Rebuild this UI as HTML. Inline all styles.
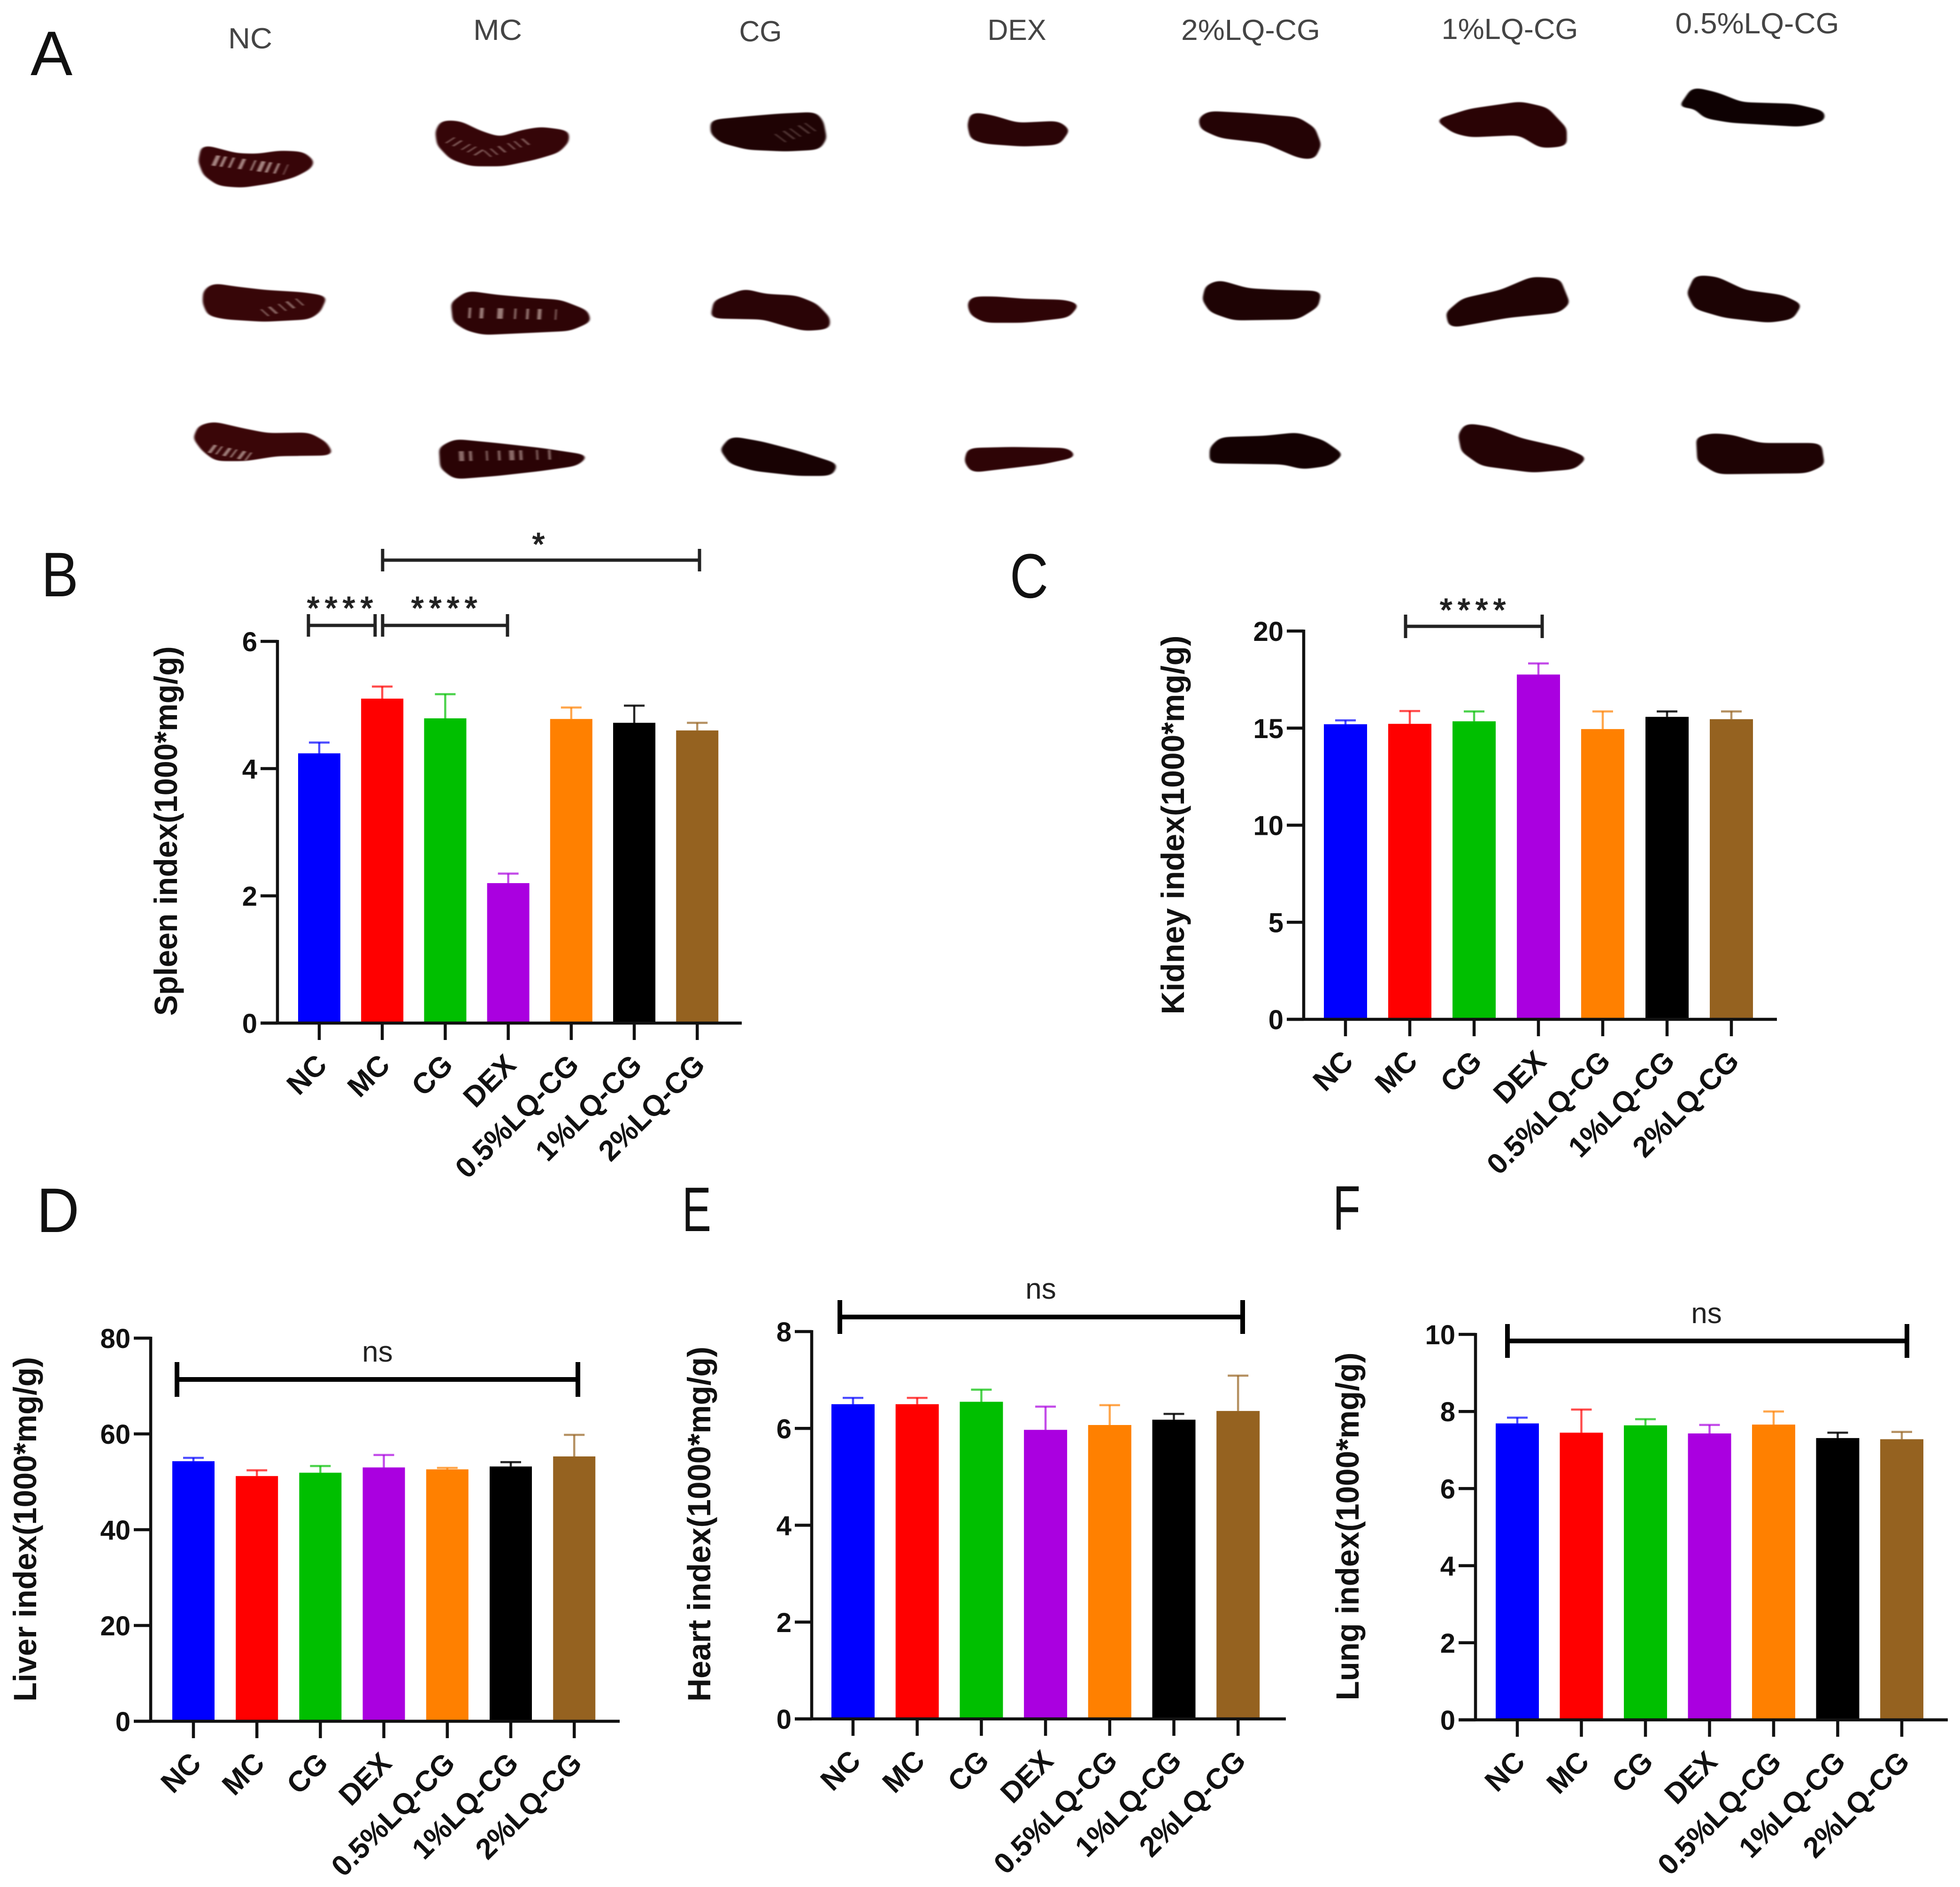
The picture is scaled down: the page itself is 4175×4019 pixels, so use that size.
<!DOCTYPE html>
<html lang="en">
<head>
<meta charset="utf-8">
<title>Organ index figure</title>
<style>
html,body{margin:0;padding:0;background:#fff;}
svg{display:block;font-family:"Liberation Sans",Arial,sans-serif;}
.hdr{font-size:62px;fill:#444;text-anchor:middle;}
.ltr{font-size:134px;fill:#111;}
</style>
</head>
<body>
<svg id="fig" xmlns="http://www.w3.org/2000/svg" width="4175" height="4019" viewBox="0 0 4175 4019">
<defs>
<filter id="goo" x="-15%" y="-15%" width="130%" height="130%" color-interpolation-filters="sRGB">
  <feGaussianBlur in="SourceGraphic" stdDeviation="9" result="b"/>
  <feComponentTransfer in="b" result="sharp"><feFuncA type="linear" slope="9" intercept="-4"/></feComponentTransfer>
  <feGaussianBlur in="sharp" stdDeviation="1.5"/>
</filter>
<filter id="soft" x="-10%" y="-10%" width="120%" height="120%"><feGaussianBlur stdDeviation="1.6"/></filter>
</defs>
<rect width="4175" height="4019" fill="#fff"/>

<g>
<text class="ltr" x="65" y="160">A</text>
<text class="ltr" x="88" y="1270" textLength="79" lengthAdjust="spacingAndGlyphs">B</text>
<text class="ltr" x="2151" y="1273" textLength="82" lengthAdjust="spacingAndGlyphs">C</text>
<text class="ltr" x="78" y="2624" textLength="91" lengthAdjust="spacingAndGlyphs">D</text>
<text class="ltr" x="1453" y="2622" textLength="62" lengthAdjust="spacingAndGlyphs">E</text>
<text class="ltr" x="2839" y="2619" textLength="59" lengthAdjust="spacingAndGlyphs">F</text>
</g>

<g>
<text class="hdr" x="533" y="103" textLength="94" lengthAdjust="spacingAndGlyphs">NC</text>
<text class="hdr" x="1060" y="85" textLength="104" lengthAdjust="spacingAndGlyphs">MC</text>
<text class="hdr" x="1620" y="88" textLength="91" lengthAdjust="spacingAndGlyphs">CG</text>
<text class="hdr" x="2166" y="85" textLength="125" lengthAdjust="spacingAndGlyphs">DEX</text>
<text class="hdr" x="2664" y="85" textLength="296" lengthAdjust="spacingAndGlyphs">2%LQ-CG</text>
<text class="hdr" x="3216" y="83" textLength="291" lengthAdjust="spacingAndGlyphs">1%LQ-CG</text>
<text class="hdr" x="3743" y="71" textLength="349" lengthAdjust="spacingAndGlyphs">0.5%LQ-CG</text>
</g>

<g transform="scale(1.3393,0.7015)" filter="url(#goo)" stroke-linejoin="round" stroke-width="10">
<polygon fill="#370508" stroke="#370508" points="325,445 345,455 375,470 410,472 445,462 480,465 495,490 490,510 465,535 430,552 385,565 350,560 328,530 320,490"/>
<polygon fill="#350508" stroke="#350508" points="705,370 730,372 760,400 795,422 830,400 860,390 900,400 900,430 885,460 850,480 800,500 750,500 720,480 700,440 697,400"/>
<polygon fill="#1f0304" stroke="#1f0304" points="1135,368 1190,358 1240,350 1295,345 1305,370 1310,420 1300,450 1250,455 1190,450 1150,430 1135,405"/>
<polygon fill="#370608" stroke="#370608" points="340,865 375,875 420,885 480,892 515,902 505,945 490,965 420,972 360,965 335,955 327,920 328,885"/>
<polygon fill="#2e0406" stroke="#2e0406" points="745,888 790,900 850,910 890,915 930,945 935,975 905,1000 850,1005 770,1012 745,1000 725,975 722,920"/>
<polygon fill="#2a0406" stroke="#2a0406" points="1185,882 1215,897 1265,902 1295,925 1315,965 1315,995 1280,1000 1250,985 1215,965 1135,962 1140,915"/>
<polygon fill="#3a0608" stroke="#3a0608" points="340,1285 385,1305 425,1320 490,1318 515,1345 525,1378 440,1380 390,1395 345,1395 325,1365 312,1330 320,1295"/>
<polygon fill="#2a0305" stroke="#2a0305" points="725,1338 790,1350 860,1365 930,1385 915,1410 860,1425 790,1440 725,1450 705,1420 703,1360"/>
<polygon fill="#180203" stroke="#180203" points="1165,1330 1210,1345 1270,1375 1327,1410 1320,1440 1270,1440 1200,1425 1165,1405 1150,1365"/>
</g>

<g transform="scale(1.3393,0.7015)" filter="url(#soft)" fill="none" stroke="#c9aea8" stroke-opacity="0.75">
<polyline points="340,487 455,515" stroke-width="32" stroke-dasharray="7 6 5 9 4 12 6 14 3 8"/>
<polyline points="715,425 770,470 845,425" stroke-width="22" stroke-dasharray="3 11 4 14 3 9" stroke-opacity="0.5"/>
<polyline points="1240,420 1290,385" stroke-width="30" stroke-dasharray="3 13 4 9" stroke-opacity="0.3"/>
<polyline points="420,950 480,915" stroke-width="24" stroke-dasharray="3 11 5 13" stroke-opacity="0.55"/>
<polyline points="745,950 885,955" stroke-width="32" stroke-dasharray="4 14 6 22 9 18 3 16" stroke-opacity="0.7"/>
<polyline points="335,1362 400,1388" stroke-width="26" stroke-dasharray="6 7 3 9" stroke-opacity="0.7"/>
<polyline points="730,1385 890,1380" stroke-width="30" stroke-dasharray="8 8 5 22 3 16 4 14" stroke-opacity="0.6"/>
</g>

<g transform="translate(2100,0) scale(1.3235,0.7015)" filter="url(#goo)" stroke-linejoin="round" stroke-width="10">
<polygon fill="#2a0406" stroke="#2a0406" points="-20,345 10,355 50,378 115,372 130,395 115,435 60,440 0,432 -20,420 -25,380"/>
<polygon fill="#2e0406" stroke="#2e0406" points="-20,905 15,905 60,912 125,915 145,925 130,960 60,975 0,975 -20,955 -25,925"/>
<polygon fill="#2e0406" stroke="#2e0406" points="-25,1365 40,1362 130,1365 140,1385 90,1405 0,1425 -20,1430 -30,1400"/>
<polygon fill="#240305" stroke="#240305" points="360,342 420,348 500,360 525,390 535,440 525,480 505,475 450,430 380,415 350,390 347,360"/>
<polygon fill="#1e0304" stroke="#1e0304" points="375,855 420,880 470,885 535,888 530,930 500,965 400,968 365,945 353,910 358,870"/>
<polygon fill="#140102" stroke="#140102" points="380,1332 450,1328 500,1318 540,1340 570,1380 550,1410 510,1420 480,1405 365,1402 365,1360"/>
<polygon fill="#2a0305" stroke="#2a0305" points="730,365 780,335 860,313 900,330 930,390 930,440 895,445 860,405 780,412 755,400"/>
<polygon fill="#200304" stroke="#200304" points="880,845 920,850 935,920 920,945 840,960 750,990 745,950 770,910 830,885"/>
<polygon fill="#240305" stroke="#240305" points="775,1290 810,1300 860,1335 930,1365 962,1390 945,1420 880,1430 800,1410 770,1370 765,1320"/>
<polygon fill="#0e0102" stroke="#0e0102" points="1140,270 1175,285 1215,315 1300,320 1345,340 1345,365 1310,380 1200,368 1160,355 1140,320 1120,325"/>
<polygon fill="#1c0304" stroke="#1c0304" points="1145,840 1175,845 1220,885 1280,900 1308,925 1295,965 1260,975 1190,960 1145,935 1133,890"/>
<polygon fill="#1e0304" stroke="#1e0304" points="1170,1320 1200,1325 1245,1350 1340,1350 1345,1410 1320,1432 1180,1435 1150,1400 1148,1330"/>
</g>
</svg>

<script>
// ---- chart data ----
const categories = ['NC','MC','CG','DEX','0.5%LQ-CG','1%LQ-CG','2%LQ-CG'];
const barColors = ['#0000ff','#ff0000','#00bf00','#aa00e0','#ff8000','#000000','#956220'];

const spleenMeans = [4.24,5.10,4.79,2.20,4.78,4.72,4.60];
const spleenUpper = [4.41,5.29,5.17,2.35,4.96,4.99,4.72];
const spleenTicks = [0,2,4,6];

const kidneyMeans = [15.20,15.22,15.35,17.76,14.95,15.58,15.46];
const kidneyUpper = [15.40,15.88,15.86,18.33,15.86,15.86,15.86];
const kidneyTicks = [0,5,10,15,20];

const liverMeans = [54.3,51.2,51.9,53.0,52.6,53.2,55.3];
const liverUpper = [55.0,52.4,53.3,55.6,52.9,54.1,59.8];
const liverTicks = [0,20,40,60,80];

const heartMeans = [6.50,6.50,6.55,5.97,6.07,6.18,6.36];
const heartUpper = [6.63,6.63,6.80,6.45,6.48,6.30,7.09];
const heartTicks = [0,2,4,6,8];

const lungMeans = [7.69,7.45,7.64,7.43,7.66,7.31,7.28];
const lungUpper = [7.84,8.05,7.80,7.65,8.00,7.45,7.47];
const lungTicks = [0,2,4,6,8,10];

const SVGNS = 'http://www.w3.org/2000/svg';
const fig = document.getElementById('fig');

function make(parent, tag, attrs, text) {
  const el = document.createElementNS(SVGNS, tag);
  for (const k in attrs) el.setAttribute(k, attrs[k]);
  if (text !== undefined) el.textContent = text;
  parent.appendChild(el);
  return el;
}
function slug(s) { return s.toLowerCase().replace(/%/g, 'pct').replace(/[^a-z0-9]+/g, '-'); }

function drawPanel(p) {
  const yMax = p.ticks[p.ticks.length - 1];
  const yScale = v => p.y0 - (v / yMax) * (p.y0 - p.yTop);
  const xScale = i => p.x1 + i * p.step;
  const AXIS = '#111';

  const g = make(fig, 'g', {});
  
  

  // bars + error bars
  p.means.forEach((m, i) => {
    const cx = xScale(i);
    const c = barColors[i];
    const cat = slug(categories[i]);
    const err = make(g, 'g', {stroke: c, 'stroke-width': 4.5, 'stroke-opacity': c === '#000000' ? 0.85 : 0.7});
    
    
    make(err, 'line', {x1: cx, x2: cx, y1: yScale(m), y2: yScale(p.upper[i])});
    make(err, 'line', {x1: cx - 22, x2: cx + 22, y1: yScale(p.upper[i]), y2: yScale(p.upper[i])});
    const bar = make(g, 'rect', {x: cx - p.barW / 2, y: yScale(m), width: p.barW, height: p.y0 - yScale(m), fill: c});
    
    
  });

  // y axis
  const yAxis = make(g, 'g', {stroke: AXIS, 'stroke-width': 6.5});
  
  
  make(yAxis, 'line', {x1: p.axisX, x2: p.axisX, y1: p.yTop - 3, y2: p.y0});
  p.ticks.forEach(t => {
    make(yAxis, 'line', {x1: p.axisX - 36, x2: p.axisX, y1: yScale(t), y2: yScale(t)});
    const lab = make(g, 'text', {x: p.axisX - 43, y: yScale(t) + 21, 'text-anchor': 'end', 'font-size': 58, 'font-weight': 'bold', fill: AXIS}, String(t));
    
    
  });

  // x axis
  const xAxis = make(g, 'g', {stroke: AXIS, 'stroke-width': 6.5});
  
  
  make(xAxis, 'line', {x1: p.axisX - 36, x2: p.xRight, y1: p.y0, y2: p.y0});
  categories.forEach((cat, i) => {
    const cx = xScale(i);
    make(xAxis, 'line', {x1: cx, x2: cx, y1: p.y0, y2: p.y0 + 36});
    const ax = cx + 20, ay = p.y0 + 93;
    const lab = make(g, 'text', {x: ax, y: ay, 'text-anchor': 'end', 'font-size': 62, 'font-weight': 'bold', fill: AXIS, transform: 'rotate(-45 ' + ax + ' ' + ay + ')'}, cat);
    
    
  });

  // y title
  const title = make(g, 'text', {x: 0, y: 0, 'text-anchor': 'middle', 'font-size': 69, 'font-weight': 'bold', fill: AXIS,
    textLength: p.titleLen, lengthAdjust: 'spacingAndGlyphs',
    transform: 'translate(' + p.titleX + ',' + p.titleY + ') rotate(-90)'}, p.title);
  
  

  // significance brackets
  p.brackets.forEach((b, n) => {
    const br = make(g, 'g', {stroke: b.thick ? '#000' : '#222', 'stroke-width': b.thick ? 10 : 7});
    
    
    make(br, 'line', {x1: b.a, x2: b.b, y1: b.y, y2: b.y});
    make(br, 'line', {x1: b.a, x2: b.a, y1: b.y - b.cap, y2: b.y + b.cap});
    make(br, 'line', {x1: b.b, x2: b.b, y1: b.y - b.cap, y2: b.y + b.cap});
    const attrs = {x: b.lx, y: b.ly, 'font-size': b.star ? 68 : 62, fill: '#222'};
    if (b.star) { attrs.stroke = '#222'; attrs['stroke-width'] = 2; }
    if (b.anchor) attrs['text-anchor'] = b.anchor;
    if (b.spacing) attrs['letter-spacing'] = b.spacing;
    const mark = make(g, 'text', attrs, b.label);
    
    
  });
}

drawPanel({name:'spleen', means:spleenMeans, upper:spleenUpper, ticks:spleenTicks,
  axisX:591, y0:2179, yTop:1366, x1:680, step:134.2, barW:90, xRight:1580,
  title:'Spleen index(1000*mg/g)', titleX:377, titleY:1770, titleLen:787,
  brackets:[
    {a:657,b:799,y:1332,cap:24,star:true,label:'****',lx:654,ly:1318,spacing:11.5},
    {a:815,b:1081,y:1332,cap:24,star:true,label:'****',lx:876,ly:1318,spacing:11.5},
    {a:815,b:1490,y:1193,cap:24,star:true,label:'*',lx:1147,ly:1182,anchor:'middle'}
  ]});
drawPanel({name:'kidney', means:kidneyMeans, upper:kidneyUpper, ticks:kidneyTicks,
  axisX:2777, y0:2171, yTop:1344, x1:2866, step:137, barW:92, xRight:3785,
  title:'Kidney index(1000*mg/g)', titleX:2522, titleY:1757, titleLen:807,
  brackets:[
    {a:2994,b:3285,y:1334,cap:25,star:true,label:'****',lx:3067,ly:1322,spacing:11.5}
  ]});
drawPanel({name:'liver', means:liverMeans, upper:liverUpper, ticks:liverTicks,
  axisX:321, y0:3666, yTop:2850, x1:412, step:135.2, barW:90, xRight:1320,
  title:'Liver index(1000*mg/g)', titleX:77, titleY:3257, titleLen:734,
  brackets:[
    {a:377,b:1231,y:2938,cap:37,thick:true,label:'ns',lx:804,ly:2900,anchor:'middle'}
  ]});
drawPanel({name:'heart', means:heartMeans, upper:heartUpper, ticks:heartTicks,
  axisX:1729, y0:3661, yTop:2836, x1:1817, step:136.7, barW:92, xRight:2739,
  title:'Heart index(1000*mg/g)', titleX:1513, titleY:3246, titleLen:756,
  brackets:[
    {a:1789,b:2647,y:2805,cap:36,thick:true,label:'ns',lx:2217,ly:2766,anchor:'middle'}
  ]});
drawPanel({name:'lung', means:lungMeans, upper:lungUpper, ticks:lungTicks,
  axisX:3143, y0:3663, yTop:2842, x1:3232, step:136.5, barW:92, xRight:4149,
  title:'Lung index(1000*mg/g)', titleX:2894, titleY:3251, titleLen:741,
  brackets:[
    {a:3211,b:4062,y:2856,cap:36,thick:true,label:'ns',lx:3635,ly:2818,anchor:'middle'}
  ]});
</script>
</body>
</html>
